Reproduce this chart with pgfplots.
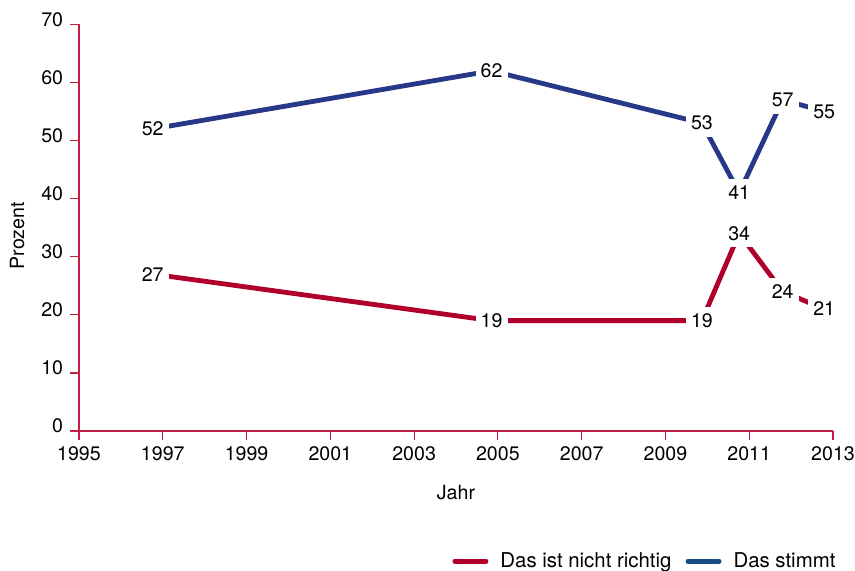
\documentclass[border=0pt]{standalone}
\usepackage{pgfplots}
\pgfplotsset{compat=1.18}
\usepackage{fontspec}
\setmainfont{TeX Gyre Heros}
\definecolor{myred}{RGB}{176,0,42}
\definecolor{myblue}{RGB}{40,56,136}
\definecolor{legblue}{RGB}{20,78,128}
\definecolor{axcol}{RGB}{192,30,70}
\begin{document}
\fontsize{9.8}{11}\selectfont
\begin{tikzpicture}
\useasboundingbox (0,0) rectangle (427.5pt,285pt);
\begin{axis}[
  at={(39.5pt,69.5pt)}, anchor=south west,
  scale only axis, width=377pt, height=203.35pt,
  xmin=1995, xmax=2013, ymin=0, ymax=70,
  xtick={1995,1997,...,2013}, ytick={0,10,...,70},
  axis x line*=bottom, axis y line*=left,
  axis line style={axcol, line width=0.6pt, -},
  tick style={axcol, line width=0.6pt},
  tick align=outside, major tick length=4.5pt,
  /pgf/number format/1000 sep={},
  /pgf/number format/assume math mode=true,
  ticklabel style={font=\fontsize{9.8}{11}\selectfont, text=black},
  yticklabel style={yshift=2.5pt},
  xlabel={Jahr}, ylabel={Prozent},
  label style={font=\fontsize{9.8}{11}\selectfont},
  xlabel style={at={(axis description cs:0.5,-0.1524)}, anchor=center},
  ylabel style={at={(axis description cs:-0.0822,0.48)}, anchor=center},
  clip=false,
  nodes near coords,
  every node near coord/.append style={anchor=center, fill=white, inner xsep=2.6pt, inner ysep=3.4pt, text=black, font=\fontsize{9.8}{11}\selectfont},
  legend style={draw=none, fill=none, legend columns=2,
    at={(axis description cs:1.017,-0.32)}, anchor=east,
    font=\fontsize{10.2}{11}\selectfont,
    /tikz/every odd column/.append style={column sep=4pt},
    /tikz/every even column/.append style={column sep=5pt}},
  legend image code/.code={\draw[line width=2.6pt, line cap=round] (1.3pt,0pt) -- (16.7pt,0pt);},
]
\addplot[myblue, line width=2.4pt, forget plot] coordinates {
  (1996.76,52) (2004.85,62) (2009.87,53) (2010.76,41) (2011.80,57) (2012.79,55)
};
\addplot[myred, line width=2.4pt, forget plot] coordinates {
  (1996.76,27) (2004.85,19) (2009.87,19) (2010.76,34) (2011.80,24) (2012.79,21)
};
\addlegendimage{myred}
\addlegendentry{Das ist nicht richtig}
\addlegendimage{legblue}
\addlegendentry{Das stimmt}
\end{axis}
\end{tikzpicture}
\end{document}
